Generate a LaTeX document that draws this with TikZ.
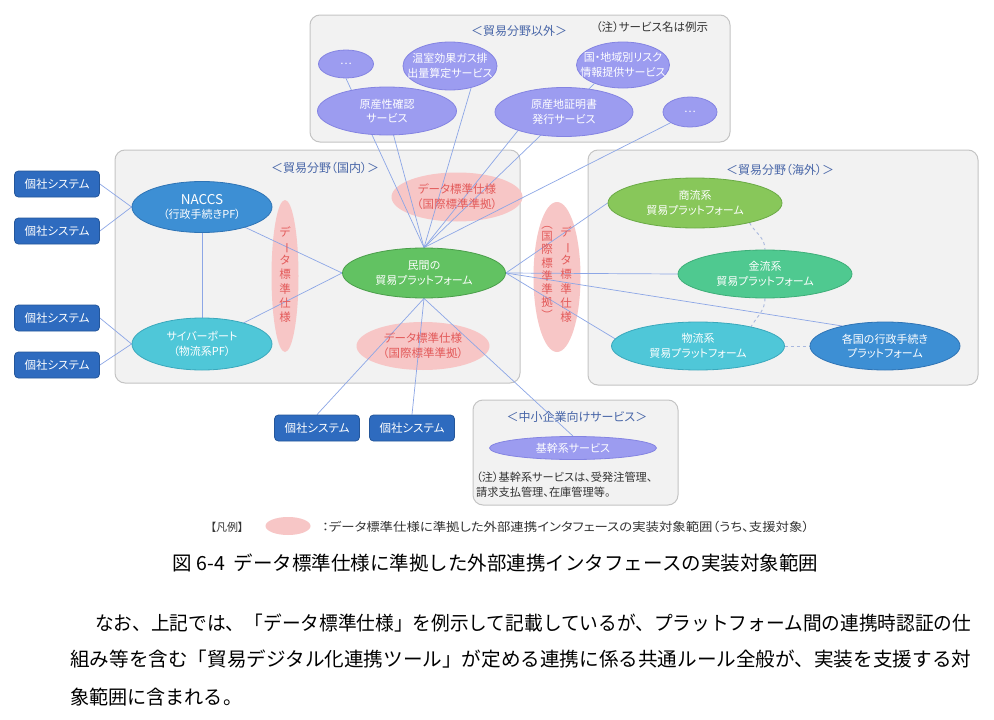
\documentclass[tikz,border=0pt]{standalone}
\usepackage{fontspec}
\setmainfont{Noto Sans CJK JP}[RawFeature={+palt}]
\newfontfamily\bodyfont{Noto Sans CJK JP}
\usetikzlibrary{shapes.geometric}
\pgfdeclarelayer{paper}
\pgfdeclarelayer{bg}
\pgfdeclarelayer{ln}
\pgfsetlayers{paper,bg,ln,main}
\definecolor{boxfill}{HTML}{F2F2F2}
\definecolor{boxdraw}{HTML}{C4C4C4}
\definecolor{pfill}{HTML}{9C9CF0}
\definecolor{pdraw}{HTML}{8484E2}
\definecolor{kfill}{HTML}{2E6BBF}
\definecolor{kdraw}{HTML}{24569A}
\definecolor{naccsfill}{HTML}{3D8FD4}
\definecolor{naccsdraw}{HTML}{2F74B5}
\definecolor{cyanfill}{HTML}{4FC7D8}
\definecolor{cyandraw}{HTML}{3AA8BC}
\definecolor{minfill}{HTML}{62C262}
\definecolor{mindraw}{HTML}{4A9E4A}
\definecolor{shoufill}{HTML}{88C75A}
\definecolor{shoudraw}{HTML}{6AAA45}
\definecolor{kinfill}{HTML}{4FC990}
\definecolor{kindraw}{HTML}{3DAE78}
\definecolor{pinkfill}{HTML}{F7C6C6}
\definecolor{pinktext}{HTML}{E35A5A}
\definecolor{lineblue}{HTML}{8CA6E6}
\definecolor{dashblue}{HTML}{A9B8DE}
\definecolor{titleblue}{HTML}{4866A8}
\definecolor{darktext}{HTML}{333333}
\newcommand{\vbar}{\rotatebox[origin=c]{-90}{ー}}
\newcommand{\vopen}{︵}
\newcommand{\vclose}{︶}
\begin{document}
\begin{tikzpicture}[x=1pt,y=-1pt,
  ell/.style={ellipse, draw, inner sep=0pt, line width=0.8pt},
  lbl/.style={text=white, font=\fontsize{11}{14.5}\selectfont, align=center, inner sep=0pt},
  purple/.style={ell, fill=pfill, draw=pdraw},
  frame/.style={rectangle, draw=boxdraw, fill=boxfill, rounded corners=10pt, line width=1pt, inner sep=0pt},
  kosha/.style={rectangle, rounded corners=4pt, fill=kfill, draw=kdraw, line width=0.8pt, minimum width=85pt, minimum height=26pt, text=white, font=\fontsize{11.5}{13}\selectfont, inner sep=0pt},
  conn/.style={draw=lineblue, line width=0.7pt},
  dashconn/.style={draw=dashblue, line width=0.9pt, dashed},
  pink/.style={ellipse, fill=pinkfill, draw=none, inner sep=0pt},
  ptxt/.style={text=pinktext, font=\fontsize{11.5}{15}\selectfont, align=center, inner sep=0pt},
  vtxt/.style={text=pinktext, font=\fontsize{11.5}{14.2}\selectfont, align=center, inner sep=0pt},
  ttl/.style={text=titleblue, font=\fontsize{12}{14}\selectfont, inner sep=0pt},
  note/.style={text=darktext, font=\fontsize{11.5}{15}\selectfont, inner sep=0pt}
]
\begin{pgfonlayer}{paper}
\fill[white] (0,0) rectangle (994,720);
\end{pgfonlayer}
\useasboundingbox (0,0) rectangle (994,720);

% ---------- frames and pink areas (background)
\begin{pgfonlayer}{bg}
\node[frame, minimum width=420pt, minimum height=127pt] (topbox) at (520,78.5) {};
\node[frame, minimum width=405pt, minimum height=233pt] (dombox) at (317.5,266.5) {};
\node[frame, minimum width=390pt, minimum height=235pt] (ovsbox) at (783,267.5) {};
\node[frame, minimum width=205pt, minimum height=105pt] (smebox) at (575.5,452.5) {};
\node[pink, minimum width=27pt, minimum height=152pt] (pL) at (285,276) {};
\node[pink, minimum width=131pt, minimum height=49pt] (pT) at (457,197) {};
\node[pink, minimum width=133pt, minimum height=48pt] (pB) at (423,346) {};
\node[pink, minimum width=47pt, minimum height=150pt] (pR) at (557,277) {};
\end{pgfonlayer}

% pink texts
\node[vtxt] (pLt) at (285,276) {\begin{tabular}{@{}c@{}}デ\\\vbar\\タ\\標\\準\\仕\\様\end{tabular}};
\node[ptxt] (pTt) at (457,197) {データ標準仕様\\（国際標準準拠）};
\node[ptxt] (pBt) at (423,346) {データ標準仕様\\（国際標準準拠）};
\node[vtxt, anchor=south] (pRb) at (566,326) {\begin{tabular}{@{}c@{}}デ\\\vbar\\タ\\標\\準\\仕\\様\end{tabular}};
\node[vtxt, anchor=south, font=\fontsize{11.5}{11.4}\selectfont] (pRa) at (547,323) {\begin{tabular}{@{}c@{}}\vopen\\国\\際\\標\\準\\準\\拠\\\vclose\end{tabular}};

% titles
\node[ttl] (t1) at (519,31) {＜貿易分野以外＞};
\node[note] (n1) at (652,27) {（注）サービス名は例示};
\node[ttl] (t2) at (325,168) {＜貿易分野（国内）＞};
\node[ttl] (t3) at (780,170) {＜貿易分野（海外）＞};
\node[ttl] (t4) at (577,417) {＜中小企業向けサービス＞};

% ---------- outside-trade services
\node[purple, minimum width=55pt, minimum height=28pt] (dotsL) at (346,64) {};
\node[lbl] (dotsLt) at (346,64) {…};
\node[purple, minimum width=94pt, minimum height=48pt] (onshitsu) at (450,66) {};
\node[lbl] (onshitsut) at (450,66) {温室効果ガス排\\出量算定サービス};
\node[purple, minimum width=93pt, minimum height=46pt] (kuni) at (623,65) {};
\node[lbl] (kunit) at (623,65) {国・地域別リスク\\情報提供サービス};
\node[purple, minimum width=139pt, minimum height=48pt] (gensan) at (387,111) {};
\node[lbl] (gensant) at (387,111) {原産性確認\\サービス};
\node[purple, minimum width=138pt, minimum height=49pt] (gensanchi) at (564,112) {};
\node[lbl] (gensanchit) at (564,112) {原産地証明書\\発行サービス};
\node[purple, minimum width=54pt, minimum height=30pt] (dotsR) at (690,112) {};
\node[lbl] (dotsRt) at (690,112) {…};

% ---------- domestic
\node[ell, fill=naccsfill, draw=naccsdraw, minimum width=140pt, minimum height=51pt] (naccs) at (202,207) {};
\node[lbl] (naccst) at (202,207) {{\fontsize{13.5}{15}\selectfont NACCS}\\（行政手続きPF）};
\node[ell, fill=cyanfill, draw=cyandraw, minimum width=140pt, minimum height=52pt] (cyber) at (202,344) {};
\node[lbl] (cybert) at (202,344) {サイバーポート\\（物流系PF）};
\node[ell, fill=minfill, draw=mindraw, minimum width=163pt, minimum height=50pt] (min) at (424,273) {};
\node[lbl] (mint) at (424,273) {民間の\\貿易プラットフォーム};

\node[kosha] (k1) at (57,184) {個社システム};
\node[kosha] (k2) at (57,231) {個社システム};
\node[kosha] (k3) at (57,318) {個社システム};
\node[kosha] (k4) at (57,365) {個社システム};
\node[kosha] (k5) at (317,428) {個社システム};
\node[kosha] (k6) at (412,428) {個社システム};

% ---------- overseas
\node[ell, fill=shoufill, draw=shoudraw, minimum width=174pt, minimum height=50pt] (shou) at (695,203) {};
\node[lbl] (shout) at (695,203) {商流系\\貿易プラットフォーム};
\node[ell, fill=kinfill, draw=kindraw, minimum width=174pt, minimum height=48pt] (kin) at (765,274) {};
\node[lbl] (kint) at (765,274) {金流系\\貿易プラットフォーム};
\node[ell, fill=cyanfill, draw=cyandraw, minimum width=173pt, minimum height=48pt] (butsu) at (698,346) {};
\node[lbl] (butsut) at (698,346) {物流系\\貿易プラットフォーム};
\node[ell, fill=naccsfill, draw=naccsdraw, minimum width=150pt, minimum height=48pt] (kakkoku) at (885,346) {};
\node[lbl] (kakkokut) at (885,346) {各国の行政手続き\\プラットフォーム};

% ---------- SME
\node[purple, minimum width=167pt, minimum height=23pt] (kikan) at (573,448) {};
\node[lbl] (kikant) at (573,448) {基幹系サービス};
\node[note, anchor=west, align=left, font=\fontsize{11.2}{15}\selectfont] (kikannote) at (476,484.5) {（注）基幹系サービスは、受発注管理、\\請求支払管理、在庫管理等。};

% ---------- connectors
\begin{pgfonlayer}{ln}
\draw[conn] (min.north) -- (dotsL.south);
\draw[conn] (min.north) -- (gensan.center);
\draw[conn] (min.north) -- (onshitsu.-46);
\draw[conn] (min.north) -- (gensanchi.202);
\draw[conn] (min.north) -- (kuni.213);
\draw[conn] (min.north) -- (dotsR.209);
\draw[conn] (min.east) -- (shou.west);
\draw[conn] (min.east) -- (kin.west);
\draw[conn] (min.east) -- (butsu.175);
\draw[conn] (min.east) -- (kakkoku.155);
\draw[conn] (naccs.center) -- (min.west);
\draw[conn] (cyber.center) -- (min.west);
\draw[conn] (naccs.center) -- (cyber.center);
\draw[conn] (k1.east) -- (naccs.west);
\draw[conn] (k2.east) -- (naccs.west);
\draw[conn] (k3.east) -- (cyber.west);
\draw[conn] (k4.east) -- (cyber.west);
\draw[conn] (min.south) -- (k5.north);
\draw[conn] (min.south) -- (k6.north);
\draw[conn] (min.south) -- (kikan.north);
\draw[dashconn] (shou.-20) to[out=-60, in=90] (kin.north);
\draw[dashconn] (kin.south) to[out=-90, in=60] (butsu.20);
\draw[dashconn] (butsu.east) -- (kakkoku.west);
\end{pgfonlayer}

% ---------- legend and caption
\node[note, font=\fontsize{11}{13}\selectfont] (leg) at (227,527) {【凡例】};
\node[pink, minimum width=45pt, minimum height=18pt] (legell) at (288,526) {};
\node[note, anchor=west] (legtxt) at (322,527) {\resizebox{487pt}{\height}{\fontsize{12}{13}\selectfont ：データ標準仕様に準拠した外部連携インタフェースの実装対象範囲（うち、支援対象）}};
\node[inner sep=0pt, text=black] (caption) at (495.5,563) {\resizebox{645pt}{\height}{\bodyfont\fontsize{19.5}{21}\selectfont 図 6-4\ \ データ標準仕様に準拠した外部連携インタフェースの実装対象範囲}};

% ---------- body text
\node[inner sep=0pt, anchor=west, text=black] (body1) at (95,623) {\resizebox{876pt}{\height}{\bodyfont\fontsize{19.5}{21}\selectfont なお、上記では、「データ標準仕様」を例示して記載しているが、プラットフォーム間の連携時認証の仕}};
\node[inner sep=0pt, anchor=west, text=black] (body2) at (70,659) {\resizebox{901pt}{\height}{\bodyfont\fontsize{19.5}{21}\selectfont 組み等を含む「貿易デジタル化連携ツール」が定める連携に係る共通ルール全般が、実装を支援する対}};
\node[inner sep=0pt, anchor=west, text=black] (body3) at (70,697) {\resizebox{172pt}{\height}{\bodyfont\fontsize{19.5}{21}\selectfont 象範囲に含まれる。}};
\end{tikzpicture}
\end{document}
